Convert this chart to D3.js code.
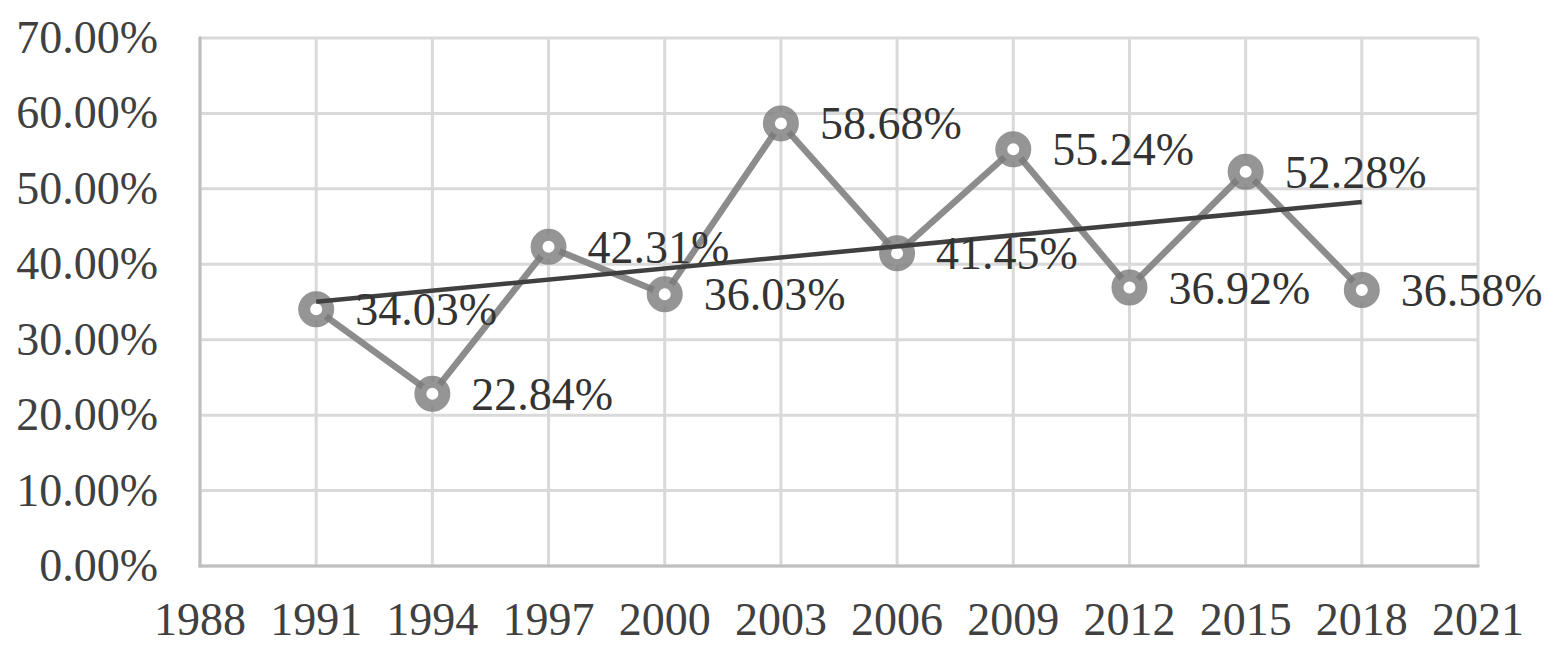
<!DOCTYPE html>
<html>
<head>
<meta charset="utf-8">
<script src="https://cdn.jsdelivr.net/npm/d3@7"></script>
<style>
  html, body { margin: 0; padding: 0; background: #fff; }
  svg { display: block; }
  text { font-family: "Liberation Serif", "Times New Roman", serif; }
</style>
</head>
<body>
<svg id="chart" width="1564" height="658"></svg>
<script>
const years = [1991, 1994, 1997, 2000, 2003, 2006, 2009, 2012, 2015, 2018];
const values = [34.03, 22.84, 42.31, 36.03, 58.68, 41.45, 55.24, 36.92, 52.28, 36.58];
const xTicks = [1988, 1991, 1994, 1997, 2000, 2003, 2006, 2009, 2012, 2015, 2018, 2021];
const yTicks = [0, 10, 20, 30, 40, 50, 60, 70];

(function () {
const svg = d3.select("#chart");
const pL = 200, pR = 1478, pT = 38, pB = 566;

const x = d3.scaleLinear().domain([1988, 2021]).range([pL, pR]);
const y = d3.scaleLinear().domain([0, 70]).range([pB, pT]);

// gridlines
const grid = svg.append("g");
grid.selectAll("line.h").data(yTicks).join("line")
  .attr("x1", pL).attr("x2", pR)
  .attr("y1", d => y(d)).attr("y2", d => y(d))
  .attr("stroke", "#d9d9d9").attr("stroke-width", 3);
grid.selectAll("line.v").data(xTicks).join("line")
  .attr("y1", pT).attr("y2", pB)
  .attr("x1", d => x(d)).attr("x2", d => x(d))
  .attr("stroke", "#d9d9d9").attr("stroke-width", 3);

// axis lines
svg.append("line").attr("x1", pL).attr("x2", pL).attr("y1", pT - 1.5).attr("y2", pB + 1.5)
  .attr("stroke", "#bfbfbf").attr("stroke-width", 3);
svg.append("line").attr("x1", pL - 1.5).attr("x2", pR + 1.5).attr("y1", pB).attr("y2", pB)
  .attr("stroke", "#bfbfbf").attr("stroke-width", 3);

// y labels
svg.append("g").selectAll("text").data(yTicks).join("text")
  .attr("x", 158).attr("y", d => y(d) + 15)
  .attr("text-anchor", "end")
  .attr("font-size", 46).attr("fill", "#404040")
  .text(d => d.toFixed(2) + "%");

// x labels
svg.append("g").selectAll("text").data(xTicks).join("text")
  .attr("x", d => x(d)).attr("y", 635)
  .attr("text-anchor", "middle")
  .attr("font-size", 46).attr("fill", "#404040")
  .text(d => d);

const pts = years.map((yr, i) => ({ yr, v: values[i] }));

// series line
svg.append("path").datum(pts)
  .attr("d", d3.line().x(d => x(d.yr)).y(d => y(d.v)))
  .attr("fill", "none").attr("stroke", "#8c8c8c").attr("stroke-width", 6.5)
  .attr("stroke-linejoin", "round");

// linear trendline (least squares)
const n = pts.length;
const mx = d3.mean(years), my = d3.mean(values);
const slope = d3.sum(pts, d => (d.yr - mx) * (d.v - my)) / d3.sum(pts, d => (d.yr - mx) ** 2);
const icpt = my - slope * mx;
const trend = [years[0], years[n - 1]].map(yr => ({ yr, v: icpt + slope * yr }));

// markers
svg.append("g").selectAll("circle").data(pts).join("circle")
  .attr("cx", d => x(d.yr)).attr("cy", d => y(d.v))
  .attr("r", 12).attr("fill", "#fff")
  .attr("stroke", "#7a7a7a").attr("stroke-opacity", 0.8).attr("stroke-width", 12);

svg.append("path").datum(trend)
  .attr("d", d3.line().x(d => x(d.yr)).y(d => y(d.v)))
  .attr("fill", "none").attr("stroke", "#404040").attr("stroke-width", 4.5)
  .attr("stroke-linecap", "butt");

// data labels
svg.append("g").selectAll("text").data(pts).join("text")
  .attr("x", d => x(d.yr) + 39).attr("y", d => y(d.v) + 16)
  .attr("font-size", 46).attr("fill", "#333333")
  .text(d => d.v.toFixed(2) + "%");
})();
</script>
</body>
</html>
